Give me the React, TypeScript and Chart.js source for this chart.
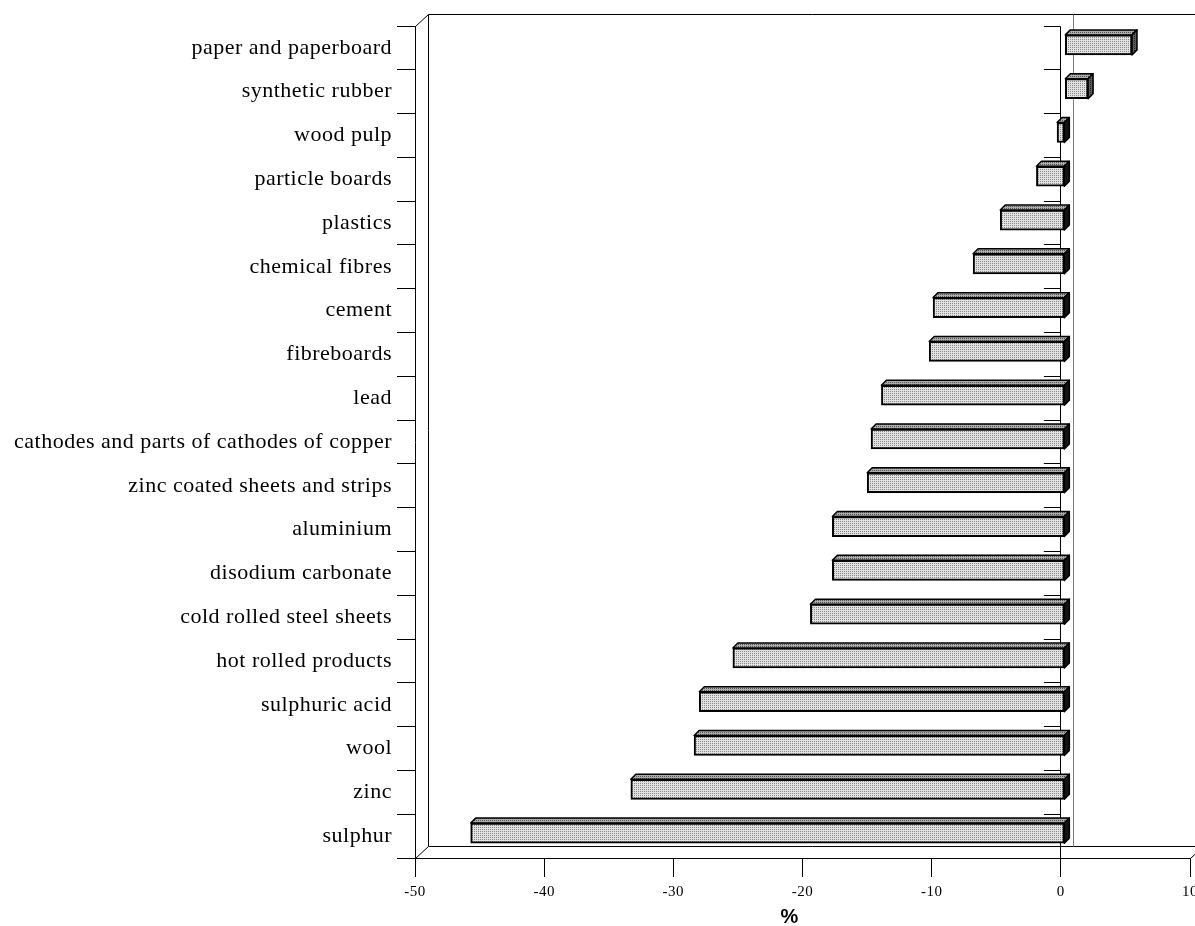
import { useEffect, useRef } from 'react';
import { Chart, registerables } from 'chart.js';

Chart.register(...registerables);

const categories = [
  'paper and paperboard',
  'synthetic rubber',
  'wood pulp',
  'particle boards',
  'plastics',
  'chemical fibres',
  'cement',
  'fibreboards',
  'lead',
  'cathodes and parts of cathodes of copper',
  'zinc coated sheets and strips',
  'aluminium',
  'disodium carbonate',
  'cold rolled steel sheets',
  'hot rolled products',
  'sulphuric acid',
  'wool',
  'zinc',
  'sulphur',
];

const values = [
  5.2, 1.8, -0.6, -2.2, -5.0, -7.1, -10.2, -10.5, -14.2, -15.0, -15.3, -18.0, -18.0, -19.7,
  -25.7, -28.3, -28.7, -33.6, -46.0,
];

const xTickValues = [-50, -40, -30, -20, -10, 0, 10];
const xTitle = '%';
const xTitleAt = -21; // axis value under which the title sits

// 3D geometry (pixels)
const WALL_DX = 13;
const WALL_DY = -12;
const BAR_SHIFT_X = 4;
const BAR_SHIFT_Y = -3;
const BAR_DX = 5;
const BAR_DY = -5;

function makePattern(bg: string, dot: string): CanvasPattern | string {
  const c = document.createElement('canvas');
  c.width = 2;
  c.height = 2;
  const g = c.getContext('2d');
  if (!g) return bg;
  g.fillStyle = bg;
  g.fillRect(0, 0, 2, 2);
  g.fillStyle = dot;
  g.fillRect(0, 0, 1, 1);
  const p = g.createPattern(c, 'repeat');
  return p || bg;
}

export default function App() {
  const ref = useRef<HTMLCanvasElement>(null);

  useEffect(() => {
    const canvas = ref.current;
    if (!canvas) return;
    const frontPattern = makePattern('#e2e2e2', '#888888');
    const topPattern = makePattern('#acacac', '#555555');
    const sidePattern = makePattern('#5c5c5c', '#222222');

    const h = (v: number) => Math.round(v - 0.5) + 0.5;

    const spacing = {
      id: 'spacing',
      beforeUpdate(chart: any) {
        (chart.ctx as any).letterSpacing = '0.5px';
      },
      beforeDraw(chart: any) {
        (chart.ctx as any).letterSpacing = '0.5px';
      },
    };

    const box3d = {
      id: 'box3d',
      beforeDatasetsDraw(chart: any) {
        const { ctx, chartArea: a, scales } = chart;
        const xs = scales.x;
        const ys = scales.y;
        const x0 = xs.getPixelForValue(0);
        const left = xs.getPixelForValue(xTickValues[0]);
        const right = xs.getPixelForValue(xTickValues[xTickValues.length - 1]);
        const top = a.top;
        const bottom = a.bottom;
        ctx.save();
        ctx.strokeStyle = '#000';
        ctx.lineWidth = 1;
        const seg = (x1: number, y1: number, x2: number, y2: number) => {
          ctx.beginPath();
          ctx.moveTo(x1, y1);
          ctx.lineTo(x2, y2);
          ctx.stroke();
        };
        seg(h(left + WALL_DX), h(top + WALL_DY), right + WALL_DX + 10, h(top + WALL_DY));
        seg(h(left + WALL_DX), h(top + WALL_DY), h(left + WALL_DX), h(bottom + WALL_DY));
        seg(h(left + WALL_DX), h(bottom + WALL_DY), right + WALL_DX + 10, h(bottom + WALL_DY));
        seg(h(left), h(top), h(left + WALL_DX), h(top + WALL_DY));
        seg(h(left), h(bottom), h(left + WALL_DX), h(bottom + WALL_DY));
        seg(h(right), h(bottom), h(right + WALL_DX), h(bottom + WALL_DY));
        ctx.strokeStyle = '#808080';
        seg(h(x0 + WALL_DX), h(top + WALL_DY), h(x0 + WALL_DX), h(bottom + WALL_DY));
        ctx.strokeStyle = '#000';
        seg(h(x0), h(top), h(x0), h(bottom));
        const n = categories.length;
        const step = ys.getPixelForValue(1) - ys.getPixelForValue(0);
        for (let i = 0; i <= n; i++) {
          const yy = i < n ? ys.getPixelForValue(i) - step / 2 : bottom;
          seg(x0 - 17, h(yy), h(x0), h(yy));
        }
        ctx.restore();
        ctx.save();
        ctx.translate(BAR_SHIFT_X, BAR_SHIFT_Y);
      },
      afterDatasetsDraw(chart: any) {
        const { ctx } = chart;
        ctx.restore();
        const meta = chart.getDatasetMeta(0);
        ctx.save();
        ctx.strokeStyle = '#000';
        ctx.lineWidth = 1.5;
        ctx.lineJoin = 'round';
        meta.data.forEach((el: any, i: number) => {
          const p = el.getProps(['x', 'y', 'base', 'height'], true);
          const l = Math.min(p.x, p.base) + BAR_SHIFT_X;
          const r = Math.max(p.x, p.base) + BAR_SHIFT_X;
          const t = p.y - p.height / 2 + BAR_SHIFT_Y;
          const b = p.y + p.height / 2 + BAR_SHIFT_Y;
          ctx.beginPath();
          ctx.moveTo(l, t);
          ctx.lineTo(l + BAR_DX, t + BAR_DY);
          ctx.lineTo(r + BAR_DX, t + BAR_DY);
          ctx.lineTo(r, t);
          ctx.closePath();
          ctx.fillStyle = topPattern;
          ctx.fill();
          ctx.stroke();
          ctx.beginPath();
          ctx.moveTo(r, t);
          ctx.lineTo(r + BAR_DX, t + BAR_DY);
          ctx.lineTo(r + BAR_DX, b + BAR_DY);
          ctx.lineTo(r, b);
          ctx.closePath();
          ctx.fillStyle = values[i] >= 0 ? sidePattern : '#141414';
          ctx.fill();
          ctx.stroke();
        });
        ctx.restore();
      },
      afterDraw(chart: any) {
        const { ctx, scales } = chart;
        const xs = scales.x;
        ctx.save();
        ctx.fillStyle = '#000';
        ctx.font = 'bold 20px "Liberation Sans"';
        ctx.textAlign = 'center';
        ctx.textBaseline = 'middle';
        ctx.fillText(xTitle, xs.getPixelForValue(xTitleAt), xs.bottom - 9);
        ctx.restore();
      },
    };

    const chart = new Chart(canvas, {
      type: 'bar',
      data: {
        labels: categories,
        datasets: [
          {
            data: values,
            backgroundColor: frontPattern as any,
            borderColor: '#000',
            borderWidth: 2,
            borderSkipped: false,
            barThickness: 20,
          },
        ],
      },
      plugins: [spacing, box3d],
      options: {
        indexAxis: 'y',
        responsive: false,
        animation: false,
        layout: { padding: { top: 26, right: 5, left: 0, bottom: 0 } },
        plugins: {
          legend: { display: false },
          tooltip: { enabled: false },
        },
        scales: {
          x: {
            type: 'linear',
            min: -50,
            max: 10,
            afterBuildTicks: (scale: any) => {
              scale.ticks = xTickValues.map((v) => ({ value: v }));
            },
            afterFit: (scale: any) => {
              scale.height = 68;
              scale.paddingLeft = 0;
              scale.paddingRight = 0;
            },
            ticks: {
              color: '#000',
              font: { family: 'Liberation Serif', size: 15 },
              padding: 6,
              maxRotation: 0,
              autoSkip: false,
            },
            grid: {
              drawOnChartArea: false,
              drawTicks: true,
              tickLength: 19,
              tickColor: '#000',
              color: '#000',
            },
            border: { display: true, color: '#000', width: 1 },
            title: { display: false, text: xTitle },
          },
          y: {
            type: 'category',
            afterFit: (scale: any) => {
              scale.width = 415;
              scale.paddingTop = 0;
              scale.paddingBottom = 0;
            },
            ticks: {
              color: '#000',
              font: { family: 'Liberation Serif', size: 22 },
              padding: 5,
              autoSkip: false,
            },
            grid: {
              offset: true,
              drawOnChartArea: false,
              drawTicks: true,
              tickLength: 18,
              tickColor: '#000',
              color: '#000',
            },
            border: { display: true, color: '#000', width: 1 },
          },
        },
      },
    } as any);

    return () => {
      chart.destroy();
    };
  }, []);

  return (
    <div style={{ position: 'absolute', left: 0, top: 0, width: 1195, height: 926, background: '#fff' }}>
      <canvas ref={ref} width={1195} height={926} style={{ display: 'block' }} />
    </div>
  );
}
